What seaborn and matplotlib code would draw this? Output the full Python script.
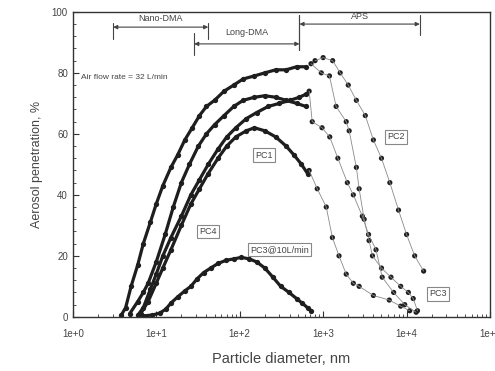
import matplotlib
matplotlib.use("Agg")
import matplotlib.pyplot as plt
import seaborn as sns
import pandas as pd
from matplotlib.ticker import FixedLocator, MultipleLocator, NullFormatter

# ---------------- data ----------------
# DMA (dense) parts of each curve: particle diameter (nm) and penetration (%)
pc2_dma_d = [3.8, 4.3, 5, 6, 7, 8.5, 10, 12, 15, 18, 22, 27, 33, 40, 50, 65, 85, 110, 150, 200, 270, 360, 480, 620]
pc2_dma_p = [0.5, 3, 10, 17, 24, 31, 37, 43, 49, 53, 58, 62, 66, 69, 71, 74, 76, 78, 79, 80, 81, 81, 82, 82]

pc3_dma_d = [4.8, 6, 7, 8, 10, 12.8, 16, 20, 25, 32, 40, 50, 65, 85, 110, 150, 200, 270, 360, 480, 620]
pc3_dma_p = [1, 5, 8, 11, 18, 27, 36, 44, 50, 56, 60, 63, 66, 69, 71, 72, 72.5, 72, 71, 70, 69]

pc4_dma_d = [6, 7, 8.5, 10, 12, 15, 20, 26, 33, 42, 55, 70, 90, 120, 160, 220, 300, 400, 520, 620]
pc4_dma_p = [0.5, 3, 9, 14, 20, 26, 33, 40, 45, 50, 55, 59, 62, 65, 67, 69, 70, 71, 72, 73]

pc1_dma_d = [6.5, 8, 10, 12, 15, 20, 26, 33, 42, 55, 70, 90, 120, 150, 200, 270, 360, 450, 550, 650]
pc1_dma_p = [1, 5, 11, 16, 22, 30, 37, 42, 47, 52, 56, 59, 61, 62, 61, 59, 56, 53, 50, 47]

pc3_10_d = [7, 9, 11, 13, 15, 18, 22, 26, 31, 37, 45, 55, 68, 85, 105, 130, 160, 200, 250, 310, 390, 480, 560, 650, 720]
pc3_10_p = [0.3, 0.6, 1.2, 2.5, 4.5, 6.5, 8.5, 10, 12.5, 14.5, 16, 17.5, 18.5, 19, 19.5, 19, 18, 16, 13, 10, 8, 6, 4.5, 3, 2]

# APS (sparse) parts of each curve
pc2_aps_d = [800, 1000, 1300, 1600, 2000, 2500, 3200, 4000, 5000, 6300, 8000, 10000, 12500, 16000]
pc2_aps_p = [84, 85, 84, 80, 76, 71, 66, 58, 52, 44, 35, 27, 20, 15]

pc3_aps_d = [716, 950, 1190, 1430, 1890, 2050, 2500, 2700, 3100, 3550, 3900, 5000, 6500, 8500, 10500, 12000, 13500]
pc3_aps_p = [83, 80, 79, 69, 64, 61, 49, 42, 32, 25, 20, 16, 13, 10, 8, 6, 2]

pc4_aps_d = [680, 740, 970, 1200, 1500, 1950, 2300, 2950, 3500, 4300, 5100, 7000, 9500, 13000]
pc4_aps_p = [74, 64, 62, 59, 52, 44, 40, 33, 27, 22, 13, 8, 4, 1.5]

pc1_aps_d = [680, 850, 1090, 1290, 1550, 1890, 2300, 2700, 4000, 6200, 8500, 10900]
pc1_aps_p = [48, 42, 36, 26, 20, 14, 11, 10, 7, 5.5, 3.5, 2]

x_ticks = [1, 10, 100, 1000, 10000, 100000]
x_tick_labels = ["1e+0", "1e+1", "1e+2", "1e+3", "1e+4", "1e+5"]
y_ticks = [0, 20, 40, 60, 80, 100]

# ---------------- build tables ----------------
def frame(d, p, name):
    return pd.DataFrame({"d": d, "p": p, "series": name})

dma = pd.concat([
    frame(pc2_dma_d, pc2_dma_p, "PC2"),
    frame(pc3_dma_d, pc3_dma_p, "PC3"),
    frame(pc4_dma_d, pc4_dma_p, "PC4"),
    frame(pc1_dma_d, pc1_dma_p, "PC1"),
    frame(pc3_10_d, pc3_10_p, "PC3@10L/min"),
], ignore_index=True)

aps = pd.concat([
    frame(pc2_aps_d, pc2_aps_p, "PC2"),
    frame(pc3_aps_d, pc3_aps_p, "PC3"),
    frame(pc4_aps_d, pc4_aps_p, "PC4"),
    frame(pc1_aps_d, pc1_aps_p, "PC1"),
], ignore_index=True)

# ---------------- plot ----------------
sns.set_theme(style="ticks")
plt.rcParams["font.family"] = ["Liberation Sans", "DejaVu Sans"]

fig = plt.figure(figsize=(4.95, 3.71), dpi=100)
ax = fig.add_axes([0.147, 0.146, 0.843, 0.822])

ink = "#1e1e1e"
names = ["PC2", "PC3", "PC4", "PC1", "PC3@10L/min"]
pal = {n: ink for n in names}

sns.lineplot(data=dma, x="d", y="p", hue="series", palette=pal, units="series",
             estimator=None, sort=False, linewidth=2.3, marker="o", markersize=3.8,
             markeredgewidth=0, legend=False, ax=ax)
sns.lineplot(data=aps, x="d", y="p", hue="series", palette={n: "#8a8a8a" for n in names[:4]},
             units="series", estimator=None, sort=False, linewidth=0.6,
             legend=False, ax=ax)
sns.scatterplot(data=aps, x="d", y="p", hue="series", palette=pal, s=14,
                linewidth=0, legend=False, ax=ax)

ax.set_xscale("log")
ax.set_xlim(1, 1e5)
ax.set_ylim(0, 100)
ax.xaxis.set_major_locator(FixedLocator(x_ticks))
ax.set_xticklabels(x_tick_labels)
ax.yaxis.set_major_locator(FixedLocator(y_ticks))
ax.yaxis.set_minor_locator(MultipleLocator(4))
ax.xaxis.set_minor_formatter(NullFormatter())
ax.tick_params(axis="both", which="both", direction="in", colors="#333333",
               labelsize=7, labelcolor="#444444")
ax.tick_params(which="major", length=4, width=0.8)
ax.tick_params(which="minor", length=2, width=0.6)
ax.tick_params(axis="x", which="major", pad=9)
for sp in ax.spines.values():
    sp.set_visible(True)
    sp.set_color("#333333")
    sp.set_linewidth(1.0)

ax.set_xlabel("Particle diameter, nm", fontsize=10.5, color="#444444", labelpad=9)
ax.set_ylabel("Aerosol penetration, %", fontsize=9, color="#444444", labelpad=6)

# instrument range brackets
def bracket(x0, x1, y, label, ty, cap0, cap1):
    ax.annotate("", xy=(x0, y), xytext=(x1, y),
                arrowprops=dict(arrowstyle="<|-|>", color="#444444", lw=0.8,
                                shrinkA=0, shrinkB=0, mutation_scale=6))
    ax.plot([x0, x0], cap0, color="#444444", lw=0.8)
    ax.plot([x1, x1], cap1, color="#444444", lw=0.8)
    ax.text((x0 * x1) ** 0.5, ty, label, ha="center", va="center",
            fontsize=6.5, color="#444444")

bracket(3.05, 42, 95, "Nano-DMA", 97.8, (91, 96.5), (91, 96.5))
bracket(28.5, 520, 89.5, "Long-DMA", 93.3, (86, 93), (87.5, 99))
bracket(520, 14400, 96, "APS", 98.5, (87.5, 99), (92.5, 99))

ax.text(1.25, 78.5, "Air flow rate = 32 L/min", fontsize=6, color="#444444",
        ha="left", va="center")

box = dict(boxstyle="square,pad=0.25", fc="white", ec="#888888", lw=0.8)
for txt, x, y in [("PC1", 195, 53), ("PC2", 7500, 59), ("PC4", 42, 28),
                  ("PC3@10L/min", 300, 22), ("PC3", 24000, 7.5)]:
    ax.text(x, y, txt, fontsize=6.5, color="#444444", ha="center", va="center", bbox=box)

fig.savefig("out.png", dpi=100)
